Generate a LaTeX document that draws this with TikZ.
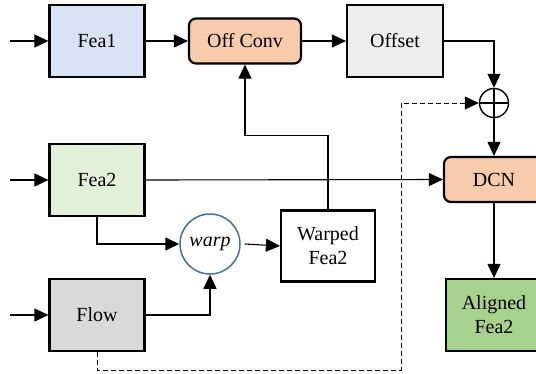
\documentclass[tikz,border=0pt]{standalone}
\usepackage{fontspec}
\setmainfont{Liberation Serif}
\newfontfamily\labelfont{Liberation Serif}
\usetikzlibrary{arrows.meta,calc}

\definecolor{feaone}{HTML}{DAE3F3}
\definecolor{offc}{HTML}{F8CBAD}
\definecolor{offs}{HTML}{EDEDED}
\definecolor{featwo}{HTML}{E2F0D9}
\definecolor{flowc}{HTML}{D9D9D9}
\definecolor{alig}{HTML}{A9D18E}
\definecolor{warpblue}{HTML}{41719C}

\tikzset{
  blk/.style={draw=black, line width=2.2pt, minimum width=95pt, minimum height=72pt,
    font=\labelfont\fontsize{20}{24}\selectfont, align=center, inner sep=0pt},
  rblk/.style={blk, rounded corners=7pt, minimum height=45pt},
  conn/.style={line width=1.1pt, -{Triangle[length=14pt,width=13pt]}},
}

\begin{document}
\begin{tikzpicture}[x=1pt,y=-1pt]
  \useasboundingbox (0,0) rectangle (536,373);

  % feature boxes
  \node[blk, fill=feaone] (fea1) at (97,41) {Fea1};
  \node[rblk, fill=offc, minimum width=112pt] (offconv) at (245,41) {Off Conv};
  \node[blk, fill=offs, minimum width=96pt] (offset) at (395,41) {Offset};
  \node[blk, fill=featwo] (fea2) at (97,180) {Fea2};
  \node[blk, fill=flowc] (flow) at (97,315) {Flow};
  \node[blk, fill=white, minimum width=94pt, minimum height=71pt] (warped) at (328,246) {Warped\\Fea2};
  \node[rblk, fill=offc, minimum width=100pt] (dcn) at (494,179.5) {DCN};
  \node[blk, fill=alig, minimum width=96pt] (aligned) at (494,315) {Aligned\\Fea2};

  % warp operator
  \node[circle, draw=warpblue, line width=1.5pt, minimum size=60pt, inner sep=0pt,
        font=\labelfont\fontsize{20}{24}\selectfont\itshape] (warp) at (210,244) {warp};

  % element-wise sum
  \node[circle, draw=black, line width=1.4pt, minimum size=29pt, inner sep=0pt] (sum) at (494,103) {};
  \draw[line width=1.4pt] (sum.north) -- (sum.south) (sum.west) -- (sum.east);

  % inputs
  \coordinate (in1) at (10,41);
  \coordinate (in2) at (10,180);
  \coordinate (in3) at (10,315);
  \draw[conn] (in1) -- (fea1.west);
  \draw[conn] (in2) -- (fea2.west);
  \draw[conn] (in3) -- (flow.west);

  % main flow
  \draw[conn] (fea1.east) -- (offconv.west);
  \draw[conn] (offconv.east) -- (offset.west);
  \draw[conn] (offset.east) -| (sum.north);
  \draw[conn] (sum.south) -- (dcn.north);
  \draw[conn] (dcn.south) -- (aligned.north);
  \draw[conn] (fea2.east) -- (dcn.west);

  % warping branch
  \draw[conn] (fea2.south) |- (warp.west);
  \draw[conn] (flow.east) -| (warp.south);
  \draw[conn] ($(warp.east)+(4,0)$) -- (warped.west);
  \draw[conn] (warped.north) -- ++(0,-74) -| (offconv.south);

  % flow shortcut to the sum
  \coordinate (fb) at (97,370);
  \coordinate (fr) at (401,370);
  \draw[conn, line width=1pt, dash pattern=on 5pt off 3pt] (flow.south) -- (fb) -- (fr) |- (sum.west);
\end{tikzpicture}
\end{document}
